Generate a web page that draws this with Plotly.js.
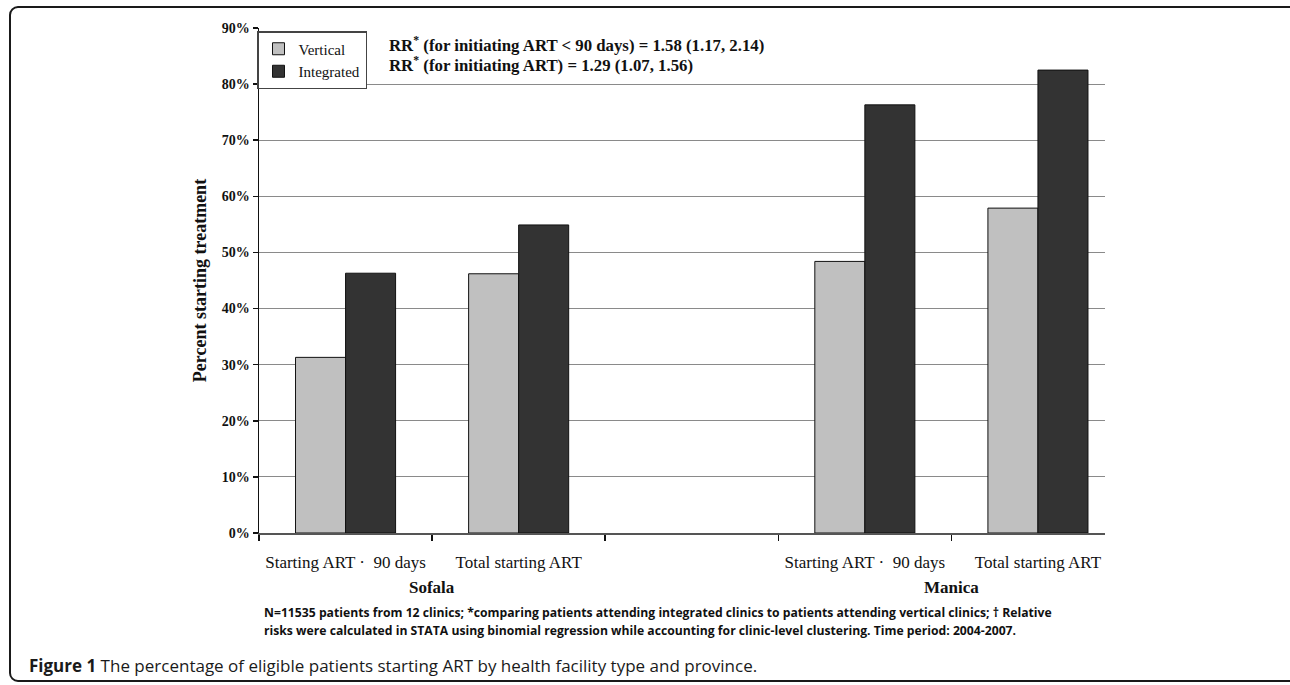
<!DOCTYPE html>
<html>
<head>
<meta charset="utf-8">
<script src="https://cdn.plot.ly/plotly-3.0.1.min.js"></script>
<style>
  html, body { margin: 0; padding: 0; background: #fff; }
  #wrap { position: relative; width: 1290px; height: 685px; overflow: hidden; }
  #chart { position: absolute; left: 0; top: 0; width: 1290px; height: 685px; }
  #frame { position: absolute; left: 9px; top: 6px; width: 1290px; height: 676px;
           border: 2px solid #1a1a1a; border-radius: 9px; pointer-events: none; box-sizing: border-box; }
</style>
</head>
<body>
<div id="wrap">
  <div id="chart"></div>
  <div id="frame"></div>
</div>
<script>
// ---- data ----
const categories = ["Sofala <90", "Sofala total", "gap", "Manica <90", "Manica total"];
const tickLabels = ["Starting ART \u00B7  90 days", "Total starting ART", " ", "Starting ART \u00B7  90 days", "Total starting ART"];
const verticalValues = [31.3, 46.2, null, 48.4, 57.9];
const integratedValues = [46.3, 54.9, null, 76.3, 82.5];
const seriesNames = ["Vertical", "Integrated"];
const provinces = ["Sofala", "Manica"];
const yTickVals = [0, 10, 20, 30, 40, 50, 60, 70, 80, 90];
const yTickLabels = ["0%", "10%", "20%", "30%", "40%", "50%", "60%", "70%", "80%", "90%"];

// ---- layout geometry (pixels) ----
const W = 1290, H = 685;
const plotL = 259, plotR = 1105, plotT = 28, plotB = 533;
const px2x = px => (px - plotL) / (plotR - plotL);
const px2y = py => (plotB - py) / (plotB - plotT);
const catW = 173.1;

const serif = "Liberation Serif, Times New Roman, serif";

const traces = [
  { type: "bar", name: seriesNames[0], x: categories, y: verticalValues,
    marker: { color: "#c0c0c0", line: { color: "#111", width: 1 } }, hoverinfo: "skip" },
  { type: "bar", name: seriesNames[1], x: categories, y: integratedValues,
    marker: { color: "#333333", line: { color: "#111", width: 1 } }, hoverinfo: "skip" }
];

const layout = {
  width: W, height: H,
  margin: { l: plotL, r: W - plotR, t: plotT, b: H - plotB, pad: 0 },
  paper_bgcolor: "rgba(0,0,0,0)", plot_bgcolor: "#fff",
  barmode: "group", bargap: 0.422, bargroupgap: 0,
  showlegend: true,
  legend: {
    x: px2x(257), y: px2y(31), xanchor: "left", yanchor: "top",
    bgcolor: "#fff", bordercolor: "#444", borderwidth: 1.5,
    font: { family: serif, size: 15, color: "#111" },
    tracegroupgap: 0, itemwidth: 30
  },
  xaxis: {
    type: "category",
    categoryorder: "array", categoryarray: categories,
    tickvals: categories, ticktext: tickLabels,
    range: [-0.5, -0.5 + (plotR - plotL) / catW],
    tickson: "boundaries", tickangle: 0,
    ticks: "outside", ticklen: 6, tickcolor: "#111", tickwidth: 1.5,
    showline: true, linecolor: "#555", linewidth: 1.5,
    showgrid: false, zeroline: false,
    ticklabelstandoff: 13,
    tickfont: { family: serif, size: 17, color: "#111" }
  },
  yaxis: {
    range: [0, 90], tickvals: yTickVals, ticktext: yTickLabels,
    ticks: "outside", ticklen: 5, tickcolor: "#111", tickwidth: 1.5,
    showline: true, linecolor: "#111", linewidth: 1.5,
    showgrid: true, gridcolor: "#8a8a8a", gridwidth: 1,
    zeroline: false,
    tickfont: { family: serif, size: 14, color: "#111", weight: "bold" },
    title: { text: "<b>Percent starting treatment</b>", standoff: 10,
             font: { family: serif, size: 18, color: "#111" } }
  },
  annotations: [
    { xref: "paper", yref: "paper", x: px2x(387), y: px2y(44), xanchor: "left", yanchor: "middle",
      showarrow: false, text: "<b>RR<sup style='font-size:9px'>*</sup> (for initiating ART &lt; 90 days) = 1.58 (1.17, 2.14)</b>",
      font: { family: serif, size: 16.8, color: "#111" } },
    { xref: "paper", yref: "paper", x: px2x(387), y: px2y(65), xanchor: "left", yanchor: "middle",
      showarrow: false, text: "<b>RR<sup style='font-size:9px'>*</sup> (for initiating ART) = 1.29 (1.07, 1.56)</b>",
      font: { family: serif, size: 16.8, color: "#111" } },
    { xref: "x", yref: "paper", x: 0.5, y: px2y(587), xanchor: "center", yanchor: "middle",
      showarrow: false, text: "<b>" + provinces[0] + "</b>",
      font: { family: serif, size: 17, color: "#111" } },
    { xref: "x", yref: "paper", x: 3.5, y: px2y(587), xanchor: "center", yanchor: "middle",
      showarrow: false, text: "<b>" + provinces[1] + "</b>",
      font: { family: serif, size: 17, color: "#111" } },
    { xref: "paper", yref: "paper", x: px2x(262), y: px2y(612), xanchor: "left", yanchor: "middle",
      showarrow: false,
      text: "<b>N=11535 patients from 12 clinics; *comparing patients attending integrated clinics to patients attending vertical clinics; \u2020 Relative</b>",
      font: { family: "Open Sans, sans-serif", size: 12.2, color: "#111" } },
    { xref: "paper", yref: "paper", x: px2x(262), y: px2y(630), xanchor: "left", yanchor: "middle",
      showarrow: false,
      text: "<b>risks were calculated in STATA using binomial regression while accounting for clinic-level clustering. Time period: 2004-2007.</b>",
      font: { family: "Open Sans, sans-serif", size: 12.2, color: "#111" } },
    { xref: "paper", yref: "paper", x: px2x(27), y: px2y(665), xanchor: "left", yanchor: "middle",
      showarrow: false,
      text: "<b>Figure 1</b> The percentage of eligible patients starting ART by health facility type and province.",
      font: { family: "Open Sans, sans-serif", size: 17, color: "#1a1a1a" } }
  ]
};

Plotly.newPlot("chart", traces, layout, { staticPlot: true, displayModeBar: false });
</script>
</body>
</html>
